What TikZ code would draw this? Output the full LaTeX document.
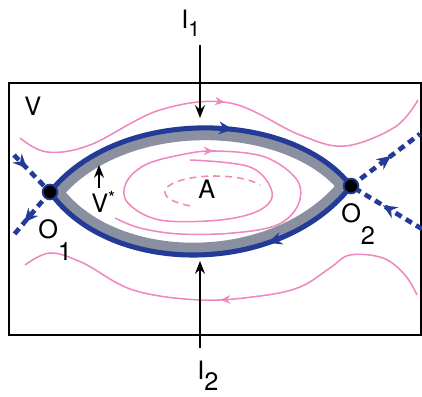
\documentclass[tikz,border=0pt]{standalone}
\usepackage{fontspec}
\setmainfont{TeX Gyre Heros}
\usetikzlibrary{arrows.meta,decorations.markings}
\definecolor{sepblue}{RGB}{35,58,150}
\definecolor{bandgrey}{RGB}{138,144,160}
\definecolor{flowpink}{RGB}{240,135,190}
\pgfdeclarelayer{bg}
\pgfsetlayers{bg,main}
\tikzset{
 frame/.style={draw=black, line width=1.4pt},
 sep/.style={draw=sepblue, line width=3.6pt},
 sepdash/.style={draw=sepblue, line width=3.3pt, dash pattern=on 5pt off 3.5pt},
 flow/.style={draw=flowpink, line width=1.1pt},
 flowdash/.style={flow, dash pattern=on 5pt off 3.5pt},
 saddle/.style={circle, fill=black, draw=sepblue, line width=1.3pt, minimum size=10.5pt, inner sep=0pt},
 lbl/.style={font=\fontsize{18}{18}\selectfont, inner sep=0pt, anchor=base west},
 pointer/.style={draw=black, line width=1.4pt, -{Stealth[length=9pt,width=7pt]}},
 bluetip/.style={decoration={markings, mark=at position #1 with {\arrow{Stealth[length=10pt,width=9pt]}}}, postaction={decorate}},
 pinktip/.style={decoration={markings, mark=at position #1 with {\arrow{Stealth[length=7pt,width=6pt]}}}, postaction={decorate}},
}
\begin{document}
\begin{tikzpicture}[x=0.025cm,y=-0.025cm]
\useasboundingbox (0,0) rectangle (422,396);
% saddle points and labels
\node[saddle] (O1) at (50,192) {};
\node[saddle] (O2) at (351,186) {};
\node[lbl] (Vlab) at (24,115) {V};
\node[lbl] (Alab) at (198,198) {A};
\node[lbl] (Vstar) at (91,212) {V\raisebox{0.3em}{\fontsize{13}{13}\selectfont *}};
\node[lbl] (O1lab) at (38,238) {O\raisebox{-0.87em}{1}};
\node[lbl] (O2lab) at (341,222) {O\raisebox{-0.9em}{2}};
\node[lbl] (I1lab) at (181,28) {I\raisebox{-0.35em}{\fontsize{15}{15}\selectfont 1}};
\node[lbl] (I2lab) at (197,379) {I\raisebox{-0.45em}{2}};
\coordinate (i1s) at (200,45);
\coordinate (i1e) at (200,118);
\coordinate (i2s) at (200,348);
\coordinate (i2e) at (200,261);
\coordinate (vss) at (99,188);
\coordinate (vse) at (99,165);
\coordinate (a1) at (14,155);
\coordinate (a2) at (12,237);
\coordinate (a3) at (420,134);
\coordinate (a4) at (422,229);
\begin{pgfonlayer}{bg}
\draw[frame] (9,83) rectangle (421,335);
% pink flow lines
\draw[flow, pinktip=0.5] plot[smooth, tension=0.6] coordinates {(20,138) (47,152) (90,145) (160,110) (230,103) (300,135) (345,146) (395,127) (418,100)};
\draw[flow, pinktip=0.52] plot[smooth, tension=0.6] coordinates {(417,295) (405,275) (383,258) (350,255) (330,268) (300,287) (260,296) (200,300) (133,290) (83,263) (50,253) (25,265)};
\draw[flow, pinktip=0.545] plot[smooth, tension=0.6] coordinates {(190,160) (250,167) (272,192) (260,210) (220,220) (160,220) (128,203) (126,183) (145,165) (180,155) (215,151) (265,157) (297,180) (298,205) (277,225) (233,233) (180,234) (140,228) (115,218)};
\draw[flowdash] plot[domain=120:335, samples=40] ({215+50*cos(\x)},{192+16*sin(\x)});
% grey band inside the separatrix loop
\begin{scope}
\clip (O1.center) .. controls (120,105) and (292,110) .. (O2.center) .. controls (280,277) and (110,277) .. (O1.center) -- cycle;
\draw[draw=bandgrey, line width=17.5pt] (O1.center) .. controls (120,105) and (292,110) .. (O2.center) .. controls (280,277) and (110,277) .. (O1.center) -- cycle;
\end{scope}
% separatrix loop
\draw[sep, bluetip=0.6] (O1.center) .. controls (120,105) and (292,110) .. (O2.center);
\draw[sep, bluetip=0.3] (O2.center) .. controls (280,277) and (110,277) .. (O1.center);
% dashed separatrices
\draw[sepdash, bluetip=0.36] (a1) -- (O1.center);
\draw[sepdash, bluetip=0.68] (O1.center) -- (a2);
\draw[sepdash, bluetip=0.58] (O2.center) -- (a3);
\draw[sepdash, bluetip=0.55] (a4) -- (O2.center);
% pointers
\draw[pointer] (i1s) -- (i1e);
\draw[pointer] (i2s) -- (i2e);
\draw[pointer] (vss) -- (vse);
\end{pgfonlayer}
\end{tikzpicture}
\end{document}
